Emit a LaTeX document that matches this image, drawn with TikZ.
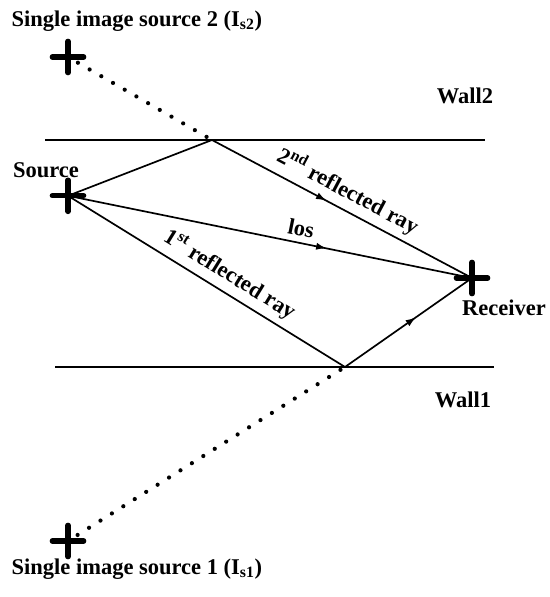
\documentclass[tikz,border=0pt]{standalone}
\usepackage{fontspec}
\setmainfont{Liberation Serif}
\usetikzlibrary{positioning, arrows.meta, decorations.markings, shapes.misc}

\begin{document}
\begin{tikzpicture}
  [crossmark/.style={draw,cross out,rotate=45,minimum size=0.42cm,inner sep=0pt,line width=3.8pt,line cap=round},
   wall/.style={line width=1.3pt},
   ray/.style={line width=1.2pt},
   mirrorray/.style={line width=3pt,line cap=round,dash pattern=on 0pt off 9.6pt},
   midarrow/.style={postaction={decorate},decoration={markings,mark=at position #1 with {\arrow{Latex[length=2.6mm,width=1.8mm]}}}},
   lbl/.style={font=\fontsize{16}{19}\selectfont\bfseries,inner sep=1pt},
   raylbl/.style={lbl,sloped,above,inner sep=4pt}]
  \useasboundingbox (0,0) rectangle (13.725,14.925);
  % walls
  \coordinate (wall2w) at (1.125,11.425);
  \coordinate (wall2e) at (12.125,11.425);
  \coordinate (wall1w) at (1.375,5.75);
  \coordinate (wall1e) at (12.35,5.75);
  \draw [wall] (wall2w) -- (wall2e);
  \draw [wall] (wall1w) -- (wall1e);
  \node (wall2label) at (11.625,12.525) [lbl] {Wall2};
  \node (wall1label) at (11.575,4.925) [lbl] {Wall1};
  % source, receiver and image sources
  \node (src) at (1.70,10.03) [crossmark] {};
  \node (rx) at (11.80,7.975) [crossmark] {};
  \node (img2) at (1.70,13.50) [crossmark] {};
  \node (img1) at (1.70,1.40) [crossmark] {};
  \node (srclabel) at (1.15,10.675) [lbl] {Source};
  \node (rxlabel) at (12.6,7.225) [lbl] {Receiver};
  \node (img2label) at (0.25,14.40) [lbl,anchor=west] {Single image source 2 (I\textsubscript{s2})};
  \node (img1label) at (0.25,0.70) [lbl,anchor=west] {Single image source 1 (I\textsubscript{s1})};
  % reflection points
  \coordinate (refl2) at (5.30,11.425);
  \coordinate (refl1) at (8.625,5.75);
  % rays
  \draw [ray,midarrow=0.64] (src.center) -- node [raylbl,pos=0.57] (loslabel) {los} (rx.center);
  \draw [ray] (src.center) -- (refl2);
  \draw [ray,midarrow=0.44] (refl2) -- node [raylbl,pos=0.49] (ray2label) {2\textsuperscript{nd} reflected ray} (rx.center);
  \draw [ray] (src.center) -- node [raylbl,pos=0.55] (ray1label) {1\textsuperscript{st} reflected ray} (refl1);
  \draw [ray,midarrow=0.56] (refl1) -- (rx.center);
  % image source paths
  \draw [mirrorray] (img2) -- (refl2);
  \draw [mirrorray] (img1) -- (refl1);
\end{tikzpicture}
\end{document}
